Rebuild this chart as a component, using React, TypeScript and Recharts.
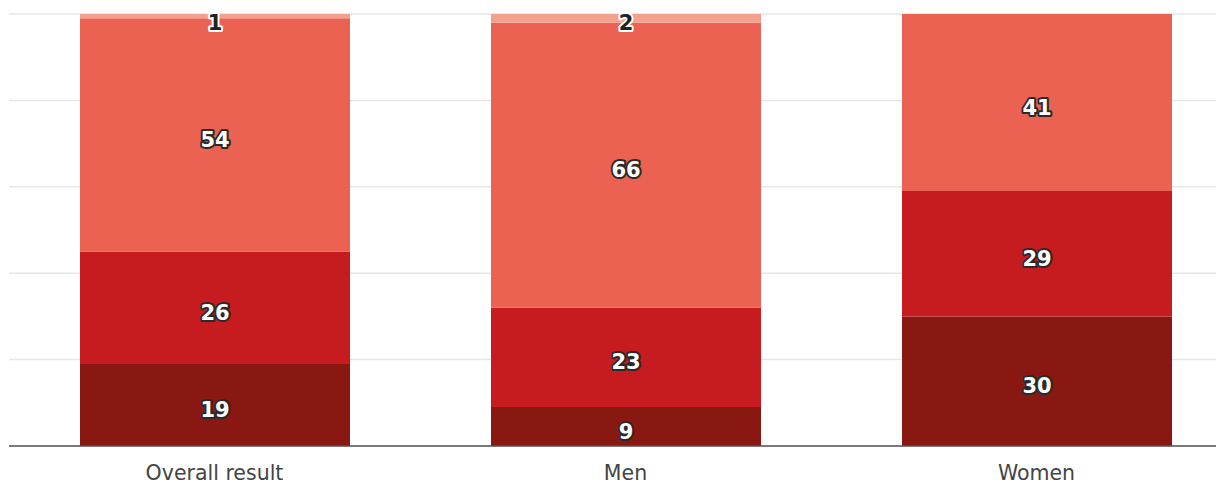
import { Bar, BarChart, CartesianGrid, LabelList, XAxis, YAxis } from 'recharts';

const categories = ['Overall result', 'Men', 'Women'];
const darkShare = [19, 9, 30];
const midShare = [26, 23, 29];
const mainShare = [54, 66, 41];
const topShare = [1, 2, 0];
const yTicks = [0, 20, 40, 60, 80, 100];

const data = categories.map((name, i) => ({
  name,
  dark: darkShare[i],
  mid: midShare[i],
  main: mainShare[i],
  top: topShare[i]
}));

const PLOT_TOP = 14;

type SegmentLabelProps = {
  x?: number | string;
  y?: number | string;
  width?: number | string;
  height?: number | string;
  value?: number | string;
  light?: boolean;
};

// centred value label with a halo; kept inside the plot when the segment is tiny
function SegmentLabel({ x, y, width, height, value, light }: SegmentLabelProps) {
  if (!value) return null;
  const cx = Number(x) + Number(width) / 2;
  const cy = Math.max(Number(y) + Number(height) / 2 + 5, PLOT_TOP + 9);
  return (
    <text
      x={cx}
      y={cy}
      textAnchor="middle"
      dominantBaseline="central"
      fontFamily="'DejaVu Sans', sans-serif"
      fontWeight={700}
      fontSize={21}
      fill={light ? '#222222' : '#ffffff'}
      stroke={light ? '#ffffff' : '#2a2a2a'}
      strokeWidth={4}
      strokeLinejoin="round"
      paintOrder="stroke"
    >
      {value}
    </text>
  );
}

export default function App() {
  return (
    <div style={{ position: 'absolute', left: 0, top: 0, width: 1216, height: 486, overflow: 'hidden', background: '#fff' }}>
      <BarChart width={1242} height={486} data={data} margin={{ top: PLOT_TOP, right: 0, left: 9, bottom: 0 }}>
        <CartesianGrid vertical={false} stroke="#e6e6e6" strokeWidth={1.5} />
        <XAxis
          dataKey="name"
          height={40}
          axisLine={{ stroke: '#555555', strokeWidth: 1.5 }}
          tickLine={false}
          tickMargin={13}
          tick={{ fill: '#444444', fontSize: 20.5, fontFamily: "'DejaVu Sans', sans-serif" }}
        />
        <YAxis hide domain={[0, 100]} ticks={yTicks} />
        <Bar dataKey="dark" stackId="s" fill="#8a1812" barSize={270} isAnimationActive={false}>
          <LabelList dataKey="dark" content={(p: any) => <SegmentLabel {...p} />} />
        </Bar>
        <Bar dataKey="mid" stackId="s" fill="#c71c1f" barSize={270} isAnimationActive={false}>
          <LabelList dataKey="mid" content={(p: any) => <SegmentLabel {...p} />} />
        </Bar>
        <Bar dataKey="main" stackId="s" fill="#eb6252" barSize={270} isAnimationActive={false}>
          <LabelList dataKey="main" content={(p: any) => <SegmentLabel {...p} />} />
        </Bar>
        <Bar dataKey="top" stackId="s" fill="#f3a08c" barSize={270} isAnimationActive={false}>
          <LabelList dataKey="top" content={(p: any) => <SegmentLabel {...p} light />} />
        </Bar>
      </BarChart>
    </div>
  );
}
